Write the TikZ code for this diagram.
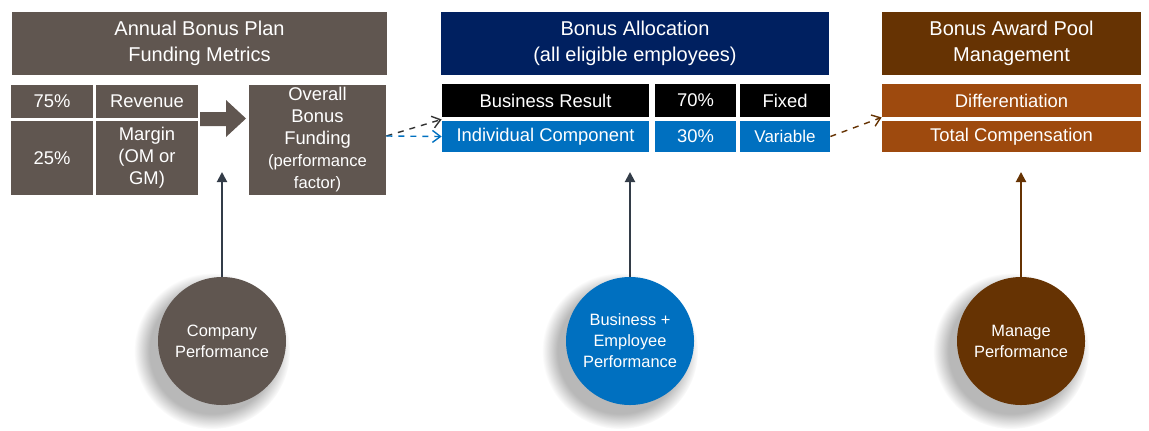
\documentclass[tikz,border=0pt]{standalone}
\usepackage{fontspec}
\setmainfont{Liberation Sans}
\usetikzlibrary{arrows.meta,positioning,fadings,backgrounds}

\definecolor{bongray}{RGB}{96,86,80}
\definecolor{bonnavy}{RGB}{0,32,96}
\definecolor{bonblue}{RGB}{0,112,192}
\definecolor{bonbrown}{RGB}{102,51,3}
\definecolor{bonorange}{RGB}{158,74,14}
\definecolor{bonslate}{RGB}{51,60,72}

\begin{document}
\begin{tikzpicture}[x=0.5pt,y=-0.5pt,
	box/.style={rectangle,inner sep=0pt,text=white,align=center,font=\fontsize{9.2}{11}\selectfont},
	head/.style={box,font=\fontsize{10}{13}\selectfont},
	ball/.style={circle,inner sep=0pt,minimum size=64pt,text=white,align=center,
		font=\fontsize{8.2}{10.5}\selectfont},
	shade/.style={fill=black,opacity=.28,path fading=circle with fuzzy edge 20 percent},
	up/.style={-{Triangle[length=5pt,width=5pt]},line width=1pt},
	dasharrow/.style={dashed,line width=0.7pt,-{Straight Barb[length=4pt,width=6pt]}}
	]

	\useasboundingbox (0,0) rectangle (1149,430);

	% funding
	\node[head,fill=bongray,minimum width=187.5pt,minimum height=31.5pt] (t1) at (199.5,43.5) {Annual Bonus Plan\\Funding Metrics};
	\node[box,fill=bongray,minimum width=41pt,minimum height=16.5pt] (p75) at (52,101.5) {75\%};
	\node[box,fill=bongray,minimum width=51pt,minimum height=16.5pt] (rev) at (147,101.5) {Revenue};
	\node[box,fill=bongray,minimum width=41pt,minimum height=37pt] (p25) at (52,158) {25\%};
	\node[box,fill=bongray,minimum width=51pt,minimum height=37pt] (mar) at (147,158) {Margin\\(OM or\\GM)};
	\node[box,fill=bongray,minimum width=68.5pt,minimum height=55pt] (ovr) at (317.5,140)
		{Overall\\Bonus\\Funding\\{\fontsize{8.3}{10.5}\selectfont(performance}\\{\fontsize{8.3}{10.5}\selectfont factor)}};

	\fill[bongray] (200,112) -- (226,112) -- (226,100) -- (246,118.5) -- (226,137) -- (226,126) -- (200,126) -- cycle;

	% allocation
	\node[head,fill=bonnavy,minimum width=194pt,minimum height=31.5pt] (t2) at (635,43.5) {Bonus Allocation\\(all eligible employees)};
	\node[box,fill=black,minimum width=103.5pt,minimum height=16.5pt] (br) at (545.5,100.5) {Business Result};
	\node[box,fill=black,minimum width=40.5pt,minimum height=16.5pt] (p70) at (695.5,100.5) {70\%};
	\node[box,fill=black,minimum width=45pt,minimum height=16.5pt] (fix) at (785,100.5) {Fixed};
	\node[box,fill=bonblue,minimum width=103.5pt,minimum height=15.5pt] (ic) at (545.5,136.5) {Individual Component};
	\node[box,fill=bonblue,minimum width=40.5pt,minimum height=15.5pt] (p30) at (695.5,136.5) {30\%};
	\node[box,fill=bonblue,minimum width=45pt,minimum height=15.5pt,font=\fontsize{8.5}{10}\selectfont] (var) at (785,136.5) {Variable};

	% award pool
	\node[head,fill=bonbrown,minimum width=129.5pt,minimum height=31.5pt] (t3) at (1011.5,43.5) {Bonus Award Pool\\Management};
	\node[box,fill=bonorange,minimum width=129.5pt,minimum height=16.5pt] (dif) at (1011.5,100.5) {Differentiation};
	\node[box,fill=bonorange,minimum width=129.5pt,minimum height=15.5pt] (tc) at (1011.5,136.5) {Total Compensation};

	% performance balls
	\node[ball,fill=bongray] (c1) at (222,341) {Company\\Performance};
	\node[ball,fill=bonblue] (c2) at (630,341) {Business +\\Employee\\Performance};
	\node[ball,fill=bonbrown] (c3) at (1021,341) {Manage\\Performance};

	\begin{scope}[on background layer]
		\fill[shade] ([xshift=-5pt,yshift=-5pt]c1.center) circle (39pt);
		\fill[shade] ([xshift=-5pt,yshift=-5pt]c2.center) circle (39pt);
		\fill[shade] ([xshift=-5pt,yshift=-5pt]c3.center) circle (39pt);
	\end{scope}

	\draw[up,bonslate] (c1) -- (222,172);
	\draw[up,bonslate] (c2) -- (630,172);
	\draw[up,bonbrown] (c3) -- (1021,172);

	\draw[dasharrow,black!80] ([yshift=2pt]ovr.east) -- ([yshift=-1pt]br.south west);
	\draw[dasharrow,bonblue] ([yshift=2pt]ovr.east) -- (ic.west);
	\draw[dasharrow,bonbrown] (var.east) -- (dif.south west);
\end{tikzpicture}
\end{document}
